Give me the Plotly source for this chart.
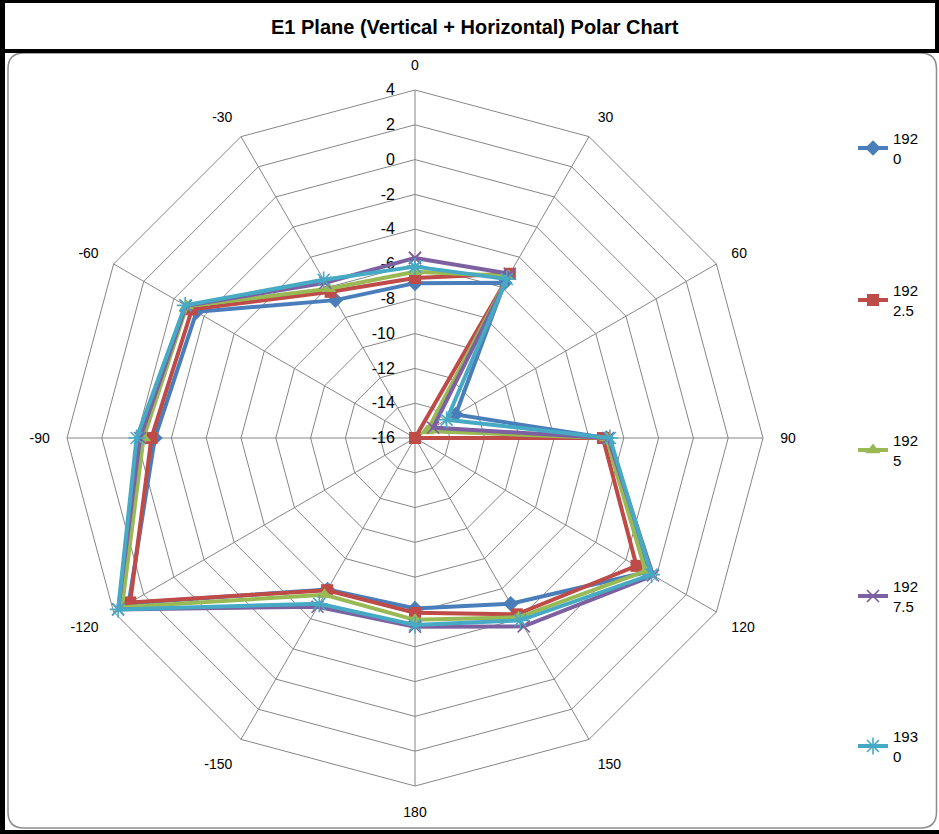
import plotly.graph_objects as go

W, H = 939, 834

categories = ["0", "30", "60", "90", "120", "150", "180", "-150", "-120", "-90", "-60", "-30"]
angles_deg = [0, 30, 60, 90, 120, 150, 180, 210, 240, 270, 300, 330]
series_names = ["1920", "1922.5", "1925", "1927.5", "1930"]
legend_labels = ["192<br>0", "192<br>2.5", "192<br>5", "192<br>7.5", "193<br>0"]

s1920 = [-7.1, -5.7, -13.3, -5.0, -0.6, -5.0, -6.2, -5.95, 3.0, -1.05, -1.5, -6.85]
s1922_5 = [-6.8, -5.1, -16.0, -5.2, -1.3, -4.3, -5.95, -5.9, 2.9, -0.85, -1.2, -6.3]
s1925 = [-6.45, -5.25, -15.2, -5.0, -0.7, -4.1, -5.55, -5.6, 3.45, -0.4, -0.85, -6.1]
s1927_5 = [-5.65, -5.1, -14.8, -4.9, -0.2, -3.5, -5.15, -4.8, 3.7, -0.2, -0.8, -5.7]
s1930 = [-6.15, -5.45, -13.9, -4.8, -0.3, -3.9, -5.25, -5.0, 3.7, 0.0, -0.75, -5.5]

radial_ticks = [-16, -14, -12, -10, -8, -6, -4, -2, 0, 2, 4]

all_series = [s1920, s1922_5, s1925, s1927_5, s1930]
colors = ["#4A7EBB", "#BE4B48", "#98B954", "#7D60A0", "#46AAC5"]
symbols = ["diamond", "square", "triangle-up", "x-thin", "asterisk"]
sizes = [12, 12, 13, 12, 14]

fig = go.Figure()

# grid-only polar (category axis gives the polygonal web)
fig.add_trace(go.Scatterpolar(
    r=[-16] * len(categories), theta=categories, mode="lines",
    line=dict(width=0, color="rgba(0,0,0,0)"), showlegend=False, hoverinfo="skip",
    subplot="polar",
))

for i, (name, vals) in enumerate(zip(series_names, all_series)):
    thin = symbols[i] in ("x-thin", "asterisk")
    fig.add_trace(go.Scatterpolar(
        r=vals + [vals[0]],
        theta=angles_deg + [angles_deg[0]],
        mode="lines+markers",
        name=legend_labels[i],
        line=dict(color=colors[i], width=4),
        marker=dict(symbol=symbols[i], size=sizes[i], color=colors[i],
                    line=dict(color=colors[i], width=1.6 if thin else 0)),
        legend="legend" if i == 0 else f"legend{i+1}",
        subplot="polar2",
    ))

cx, cy, R = 415, 438, 348
dom_x = [(cx - R) / W, (cx + R) / W]
dom_y = [1 - (cy + R) / H, 1 - (cy - R) / H]

grid_col = "#868686"
fig.update_layout(
    width=W, height=H,
    margin=dict(l=0, r=0, t=0, b=0),
    paper_bgcolor="white",
    plot_bgcolor="white",
    font=dict(family="Liberation Sans, Arial, sans-serif", color="#000"),
    polar=dict(
        domain=dict(x=dom_x, y=dom_y),
        bgcolor="white",
        gridshape="linear",
        radialaxis=dict(
            range=[-16, 4],
            tickvals=radial_ticks,
            ticktext=[str(v) for v in radial_ticks],
            angle=90,
            tickangle=90,
            side="counterclockwise",
            showline=False,
            gridcolor=grid_col,
            gridwidth=1,
            ticks="outside",
            ticklen=14,
            tickcolor="rgba(0,0,0,0)",
            tickfont=dict(size=16, family="Liberation Sans, Arial"),
        ),
        angularaxis=dict(
            type="category",
            categoryarray=categories,
            direction="clockwise",
            rotation=90,
            showline=True,
            linecolor=grid_col,
            linewidth=1,
            gridcolor=grid_col,
            gridwidth=1,
            ticks="outside",
            ticklen=14,
            tickcolor="rgba(0,0,0,0)",
            tickfont=dict(size=14, family="Liberation Sans Narrow, Liberation Sans, Arial"),
        ),
    ),
    polar2=dict(
        domain=dict(x=dom_x, y=dom_y),
        bgcolor="rgba(0,0,0,0)",
        radialaxis=dict(range=[-16, 4], visible=False, showgrid=False),
        angularaxis=dict(direction="clockwise", rotation=90, visible=False,
                         showgrid=False, showline=False),
    ),
    showlegend=True,
)

legend_y = [132, 284, 434, 580, 730]
for i, ly in enumerate(legend_y):
    key = "legend" if i == 0 else f"legend{i+1}"
    fig.update_layout(**{key: dict(
        x=853 / W, y=1 - (ly - 10) / H, xanchor="left", yanchor="top",
        bgcolor="rgba(0,0,0,0)",
        font=dict(size=15, family="Liberation Sans Narrow, Liberation Sans, Arial", color="#000"),
        itemwidth=30,
        tracegroupgap=0,
    )})

def px(x):
    return x / W

def py(y):
    return 1 - y / H

shapes = []
for (x0, y0, x1, y1) in [(0, 0, 5, 834), (0, 0, 939, 3), (0, 49, 939, 53),
                         (935, 0, 939, 51), (0, 830, 939, 834)]:
    shapes.append(dict(type="rect", xref="paper", yref="paper",
                       x0=px(x0), x1=px(x1), y0=py(y1), y1=py(y0),
                       fillcolor="black", line=dict(width=0), layer="above"))

L, T, Rr, B, rad = 8, 53, 936.5, 828, 16
path = (f"M {px(L+rad)},{py(T)} L {px(Rr-rad)},{py(T)} "
        f"Q {px(Rr)},{py(T)} {px(Rr)},{py(T+rad)} "
        f"L {px(Rr)},{py(B-rad)} Q {px(Rr)},{py(B)} {px(Rr-rad)},{py(B)} "
        f"L {px(L+rad)},{py(B)} Q {px(L)},{py(B)} {px(L)},{py(B-rad)} "
        f"L {px(L)},{py(T+rad)} Q {px(L)},{py(T)} {px(L+rad)},{py(T)} Z")
shapes.append(dict(type="path", xref="paper", yref="paper", path=path,
                   line=dict(color="#8C8C8C", width=1.5), layer="below"))

fig.update_layout(shapes=shapes)

fig.add_annotation(
    text="<b>E1 Plane (Vertical + Horizontal) Polar Chart</b>",
    xref="paper", yref="paper", x=475 / W, y=py(27),
    xanchor="center", yanchor="middle", showarrow=False,
    font=dict(size=20, family="Liberation Sans, Arial", color="#000"),
)

fig.write_html("out.html", config={"displayModeBar": False},
               post_script="document.body.style.margin='0';document.body.style.overflow='hidden';")
